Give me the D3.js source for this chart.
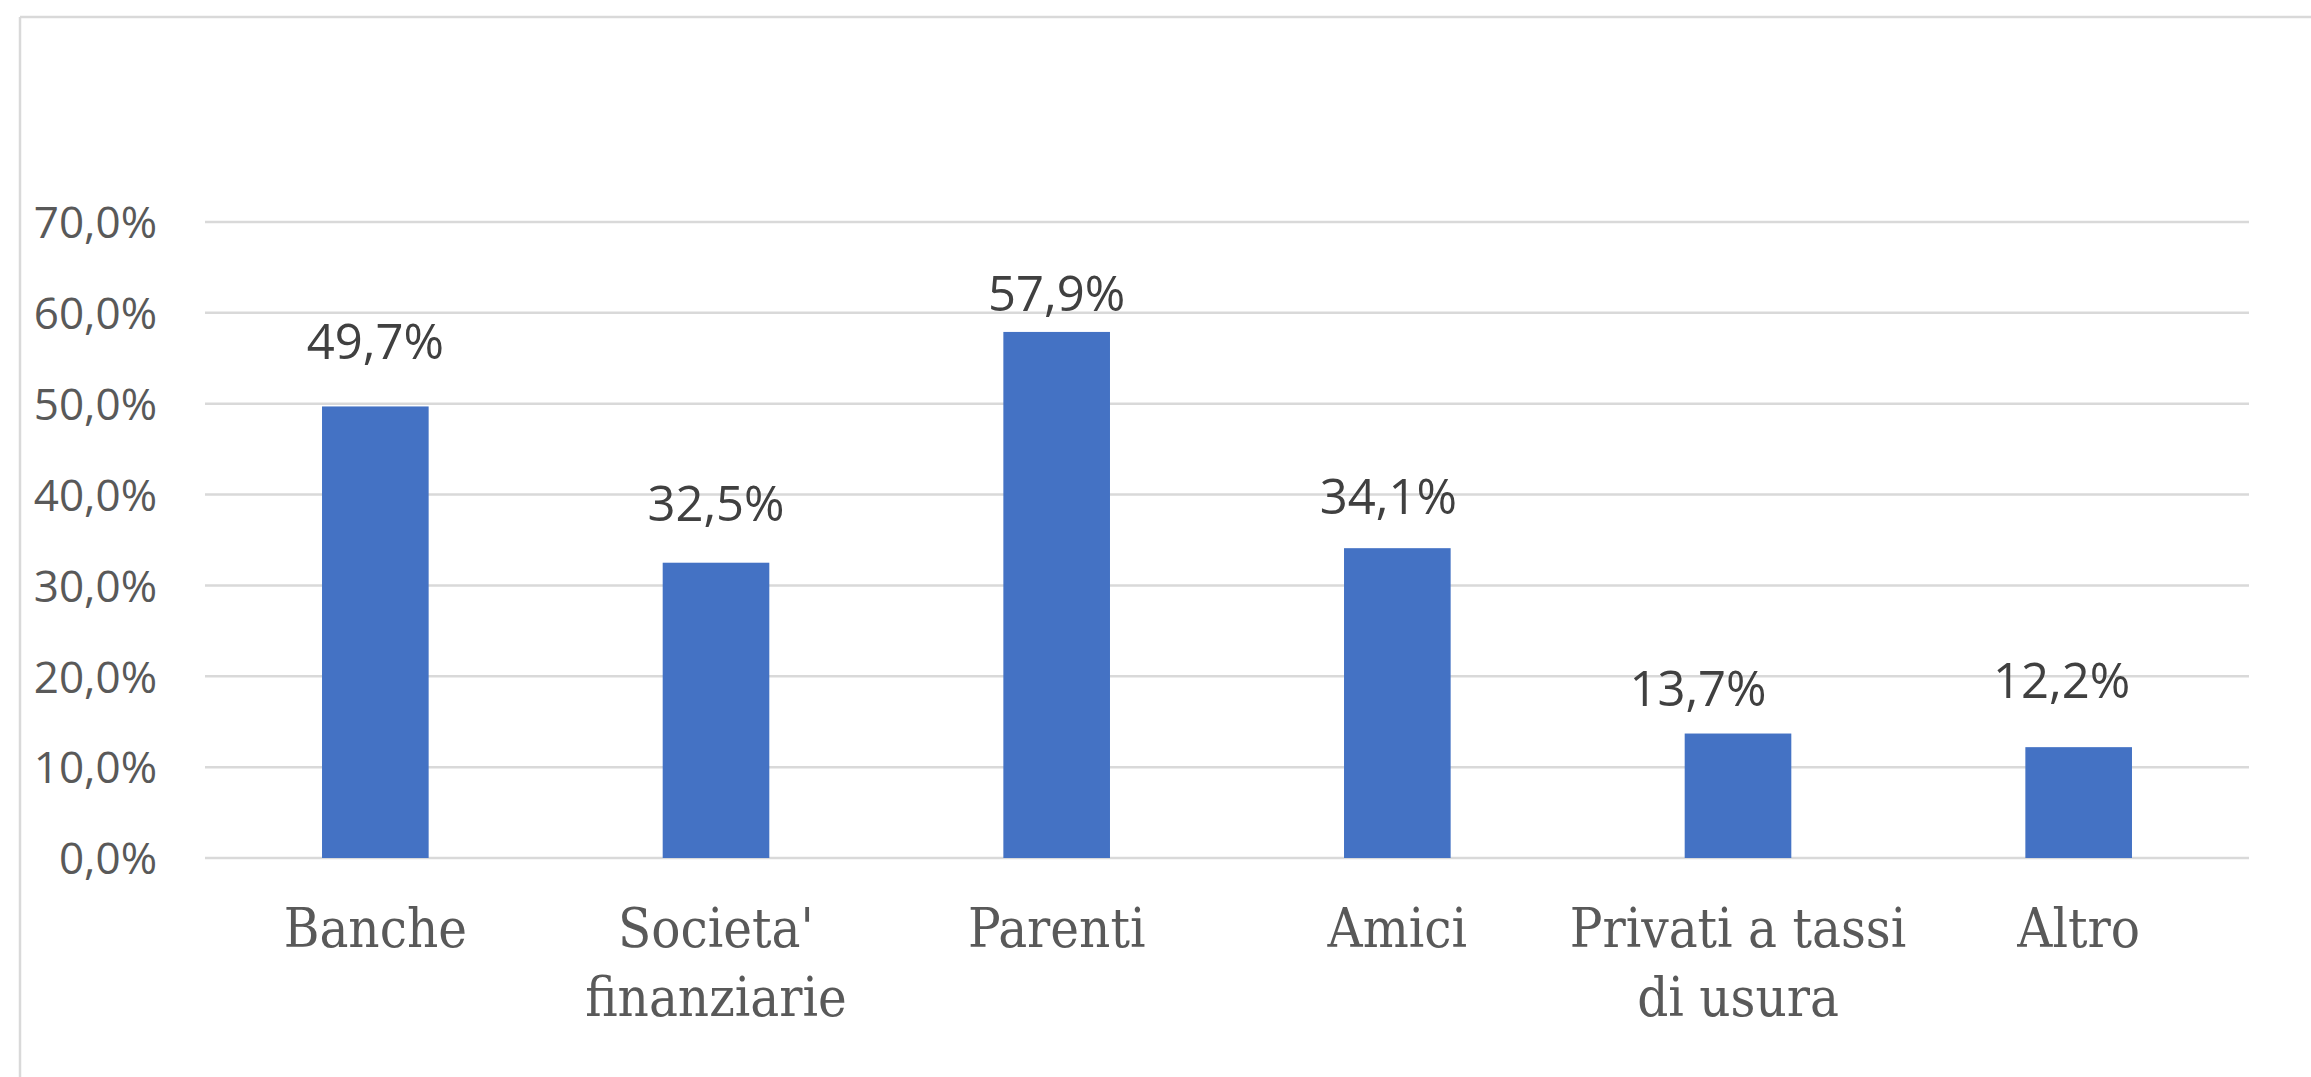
<!DOCTYPE html>
<html>
<head>
<meta charset="utf-8">
<script src="https://cdn.jsdelivr.net/npm/d3@7"></script>
<style>
    body { margin: 0; background: #fff; }
    .tick-lbl { font-family: "Open Sans", sans-serif; font-size: 44px; fill: #595959; }
    .val-lbl { font-family: "Open Sans", sans-serif; font-size: 49px; fill: #404040; }
    .cat-lbl { font-family: "DejaVu Serif Condensed", "DejaVu Serif", serif; font-stretch: condensed; font-size: 54px; fill: #595959; }
    .grid line { stroke: #d9d9d9; stroke-width: 2.5px; }
</style>
</head>
<body>
<svg id="chart" width="2311" height="1077"></svg>
<script>
// categories (line breaks as in the picture)
var categories = ["Banche", "Societa'\nfinanziarie", "Parenti", "Amici", "Privati a tassi\ndi usura", "Altro"];
var values = [49.7, 32.5, 57.9, 34.1, 13.7, 12.2];
var yTicks = [0, 10, 20, 30, 40, 50, 60, 70];

// hand-placed value labels in the original: [dx, gap above bar]
var labelNudge = [[0, 47], [0, 42], [0, 21], [-9, 34], [-40, 28], [-17, 49]];

var W = 2311, H = 1077;
var plot = { left: 205, right: 2249, top: 222, bottom: 858 };

var it = d3.formatLocale({ decimal: ",", thousands: ".", grouping: [3], currency: ["", " €"] });
var fmt = it.format(".1f");

var svg = d3.select("#chart");

// frame (only top and left edges show in the crop)
svg.append("line").attr("x1", 20).attr("y1", 17).attr("x2", 20).attr("y2", H)
    .attr("stroke", "#d9d9d9").attr("stroke-width", 2.5);
svg.append("line").attr("x1", 20).attr("y1", 17).attr("x2", W).attr("y2", 17)
    .attr("stroke", "#d9d9d9").attr("stroke-width", 2.5);

var x = d3.scaleBand()
    .domain(d3.range(categories.length))
    .range([plot.left, plot.right])
    .paddingInner(0.687)
    .paddingOuter(0.687 / 2);

var y = d3.scaleLinear()
    .domain([0, 70])
    .range([plot.bottom, plot.top]);

// gridlines
svg.append("g").attr("class", "grid")
    .selectAll("line")
    .data(yTicks)
    .enter().append("line")
        .attr("x1", plot.left)
        .attr("x2", plot.right)
        .attr("y1", function(d) { return y(d); })
        .attr("y2", function(d) { return y(d); });

// y axis labels
var yAxis = d3.axisLeft(y)
    .tickValues(yTicks)
    .tickSize(0)
    .tickPadding(48)
    .tickFormat(function(d) { return fmt(d) + "%"; });

var gy = svg.append("g")
    .attr("transform", "translate(" + plot.left + ",0)")
    .call(yAxis);
gy.select(".domain").remove();
gy.selectAll("text")
    .attr("class", "tick-lbl")
    .attr("font-family", null)
    .attr("font-size", null)
    .attr("dy", "0.36em");

// bars
svg.append("g").selectAll("rect")
    .data(values)
    .enter().append("rect")
        .attr("x", function(d, i) { return x(i); })
        .attr("y", function(d) { return y(d); })
        .attr("width", x.bandwidth())
        .attr("height", function(d) { return y(0) - y(d); })
        .attr("fill", "#4472c4");

// value labels
svg.append("g").selectAll("text")
    .data(values)
    .enter().append("text")
        .attr("class", "val-lbl")
        .attr("text-anchor", "middle")
        .attr("x", function(d, i) { return x(i) + x.bandwidth() / 2 + labelNudge[i][0]; })
        .attr("y", function(d, i) { return y(d) - labelNudge[i][1]; })
        .text(function(d) { return fmt(d) + "%"; });

// category labels
var cat = svg.append("g").selectAll("text")
    .data(categories)
    .enter().append("text")
        .attr("class", "cat-lbl")
        .attr("text-anchor", "middle")
        .attr("x", function(d, i) { return x(i) + x.bandwidth() / 2; })
        .attr("y", plot.bottom + 89);

cat.selectAll("tspan")
    .data(function(d, i) { return d.split("\n").map(function(s) { return { s: s, i: i }; }); })
    .enter().append("tspan")
        .attr("x", function(d) { return x(d.i) + x.bandwidth() / 2; })
        .attr("dy", function(d, k) { return k === 0 ? 0 : 69; })
        .text(function(d) { return d.s; });
</script>
</body>
</html>
